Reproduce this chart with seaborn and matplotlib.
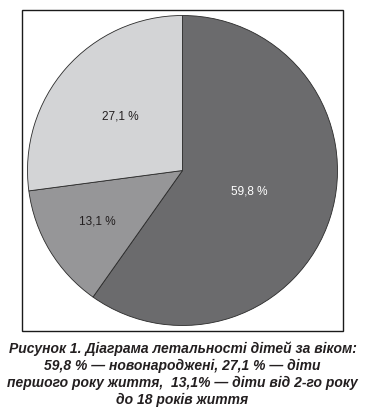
import numpy as np
import seaborn as sns
import matplotlib.pyplot as plt
from matplotlib.patches import Rectangle

# Values
shares = [59.8, 13.1, 27.1]
labels = ["59,8 %", "13,1 %", "27,1 %"]
colors = ["#6b6b6d", "#969698", "#d3d4d6"]
label_colors = ["white", "#231f20", "#231f20"]
label_dist = [0.45, 0.64, 0.53]

caption = ("Рисунок 1. Діаграма летальності дітей за віком:\n"
           "59,8 % — новонароджені, 27,1 % — діти\n"
           "першого року життя,  13,1% — діти від 2-го року\n"
           "до 18 років життя")

sns.set_theme(style="white")
plt.rcParams['font.family'] = ['Liberation Sans', 'DejaVu Sans']

fig = plt.figure(figsize=(3.65, 4.09), dpi=100)
ax = fig.add_axes([22 / 365, 78 / 409, 321 / 365, 321 / 409])

wedges, _ = ax.pie(shares, colors=colors, startangle=90, counterclock=False,
                   radius=1.0, wedgeprops=dict(edgecolor="#2a2a2a", linewidth=0.6))

# put the percent labels inside each wedge
for w, lab, c, d in zip(wedges, labels, label_colors, label_dist):
    mid = np.deg2rad((w.theta1 + w.theta2) / 2)
    ax.text(d * np.cos(mid), d * np.sin(mid), lab, ha="center", va="center",
            fontsize=8.5, color=c)

lim = 160.5 / 155
ax.set_xlim(-lim, lim)
ax.set_ylim(-lim, lim)
ax.set_aspect("auto")

# box around the chart
ax.add_patch(Rectangle((0, 0), 1, 1, transform=ax.transAxes, fill=False,
                       edgecolor="#1a1a1a", linewidth=1.0, clip_on=False))

fig.text(0.5, 35 / 409, caption, ha="center", va="center", fontsize=10,
         fontweight="bold", fontstyle="italic", color="#231f20",
         linespacing=1.25)

fig.savefig("out.png", dpi=100)
